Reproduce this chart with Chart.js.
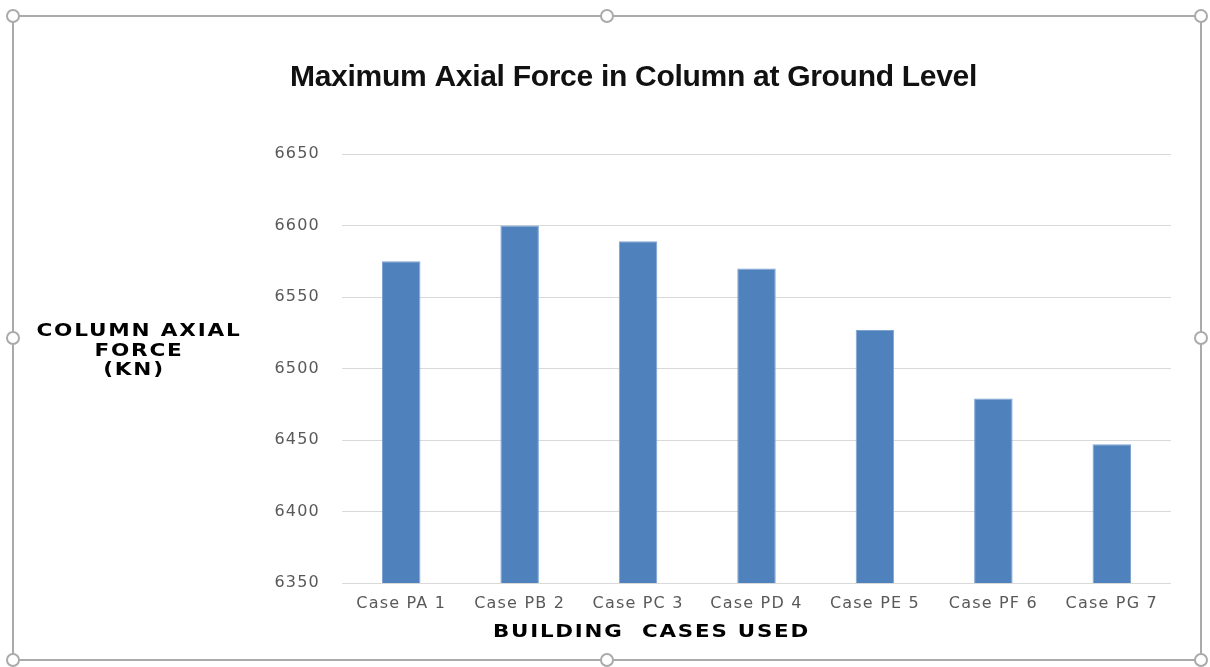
<!DOCTYPE html>
<html>
<head>
<meta charset="utf-8">
<script src="https://cdn.jsdelivr.net/npm/chart.js@4/dist/chart.umd.min.js"></script>
<style>
  html, body { margin: 0; padding: 0; background: #fff; }
  #wrap { position: relative; width: 1210px; height: 667px; }
</style>
</head>
<body>
<div id="wrap"><canvas id="c"></canvas></div>
<script>
const categories = ["Case PA 1", "Case PB 2", "Case PC 3", "Case PD 4", "Case PE 5", "Case PF 6", "Case PG 7"];
const axialForce = [6575, 6600, 6589, 6570, 6527, 6479, 6447];
const yTicks = [6350, 6400, 6450, 6500, 6550, 6600, 6650];
const chartTitle = "Maximum Axial Force in Column at Ground Level";
const yTitleLines = ["COLUMN AXIAL", "FORCE", "(KN)"];
const xTitle = "BUILDING  CASES USED";

function fitText(ctx, text, cx, cy, targetW, font, scale) {
  ctx.save();
  ctx.font = font;
  ctx.textAlign = "center";
  ctx.textBaseline = "middle";
  const w = ctx.measureText(text).width;
  const s = scale || (targetW / w);
  ctx.translate(cx, cy);
  ctx.scale(s, 1);
  ctx.fillText(text, 0, 0);
  ctx.restore();
  return s;
}

const decor = {
  id: "decor",
  beforeDraw(chart) {
    chart.ctx.letterSpacing = "1.2px";
  },
  afterDraw(chart) {
    const ctx = chart.ctx;
    ctx.letterSpacing = "-0.3px";
    ctx.fillStyle = "#111";
    fitText(ctx, chartTitle, 633.5, 78, 687, "bold 29px 'Liberation Sans', Arial, sans-serif");
    ctx.fillStyle = "#000";
    ctx.letterSpacing = "1.5px";
    const yf = "bold 18px 'DejaVu Sans', sans-serif";
    const s = fitText(ctx, yTitleLines[0], 139, 331, 205, yf);
    fitText(ctx, yTitleLines[1], 139, 351, 0, yf, s);
    fitText(ctx, yTitleLines[2], 134, 370, 0, yf, s);
    fitText(ctx, xTitle, 651.5, 632, 317, yf);
    ctx.letterSpacing = "0px";

    // selection frame
    ctx.save();
    ctx.strokeStyle = "#aaaaaa";
    ctx.lineWidth = 2;
    ctx.beginPath();
    ctx.rect(13, 16, 1188, 644);
    ctx.stroke();
    const pts = [[13,16],[607,16],[1201,16],[13,338],[1201,338],[13,660],[607,660],[1201,660]];
    ctx.fillStyle = "#fff";
    for (const [x, y] of pts) {
      ctx.beginPath();
      ctx.arc(x, y, 6, 0, Math.PI * 2);
      ctx.fill();
      ctx.stroke();
    }
    ctx.restore();
  }
};

new Chart(document.getElementById("c"), {
  type: "bar",
  data: {
    labels: categories,
    datasets: [{
      data: axialForce,
      backgroundColor: "#4f81bd",
      borderColor: "#7ea3d1",
      borderWidth: 1,
      barPercentage: 1,
      categoryPercentage: 0.325
    }]
  },
  options: {
    responsive: true,
    maintainAspectRatio: false,
    animation: false,
    layout: { padding: { left: 0, right: 39, top: 154, bottom: 0 } },
    plugins: { legend: { display: false }, title: { display: false }, tooltip: { enabled: false } },
    scales: {
      x: {
        afterFit(scale) { scale.height = 84; },
        grid: { display: false, drawTicks: false },
        border: { display: false },
        ticks: { color: "#595959", font: { family: "'DejaVu Sans', sans-serif", size: 16 }, padding: 11, maxRotation: 0 }
      },
      y: {
        min: 6350,
        max: 6650,
        afterFit(scale) { scale.width = 342; },
        afterBuildTicks(scale) { scale.ticks = yTicks.map(v => ({ value: v })); },
        grid: { color: "#d9d9d9", lineWidth: 1, drawTicks: false },
        border: { display: false },
        ticks: { color: "#595959", font: { family: "'DejaVu Sans', sans-serif", size: 16 }, padding: 22, callback: v => String(v) }
      }
    }
  },
  plugins: [decor]
});
</script>
</body>
</html>
